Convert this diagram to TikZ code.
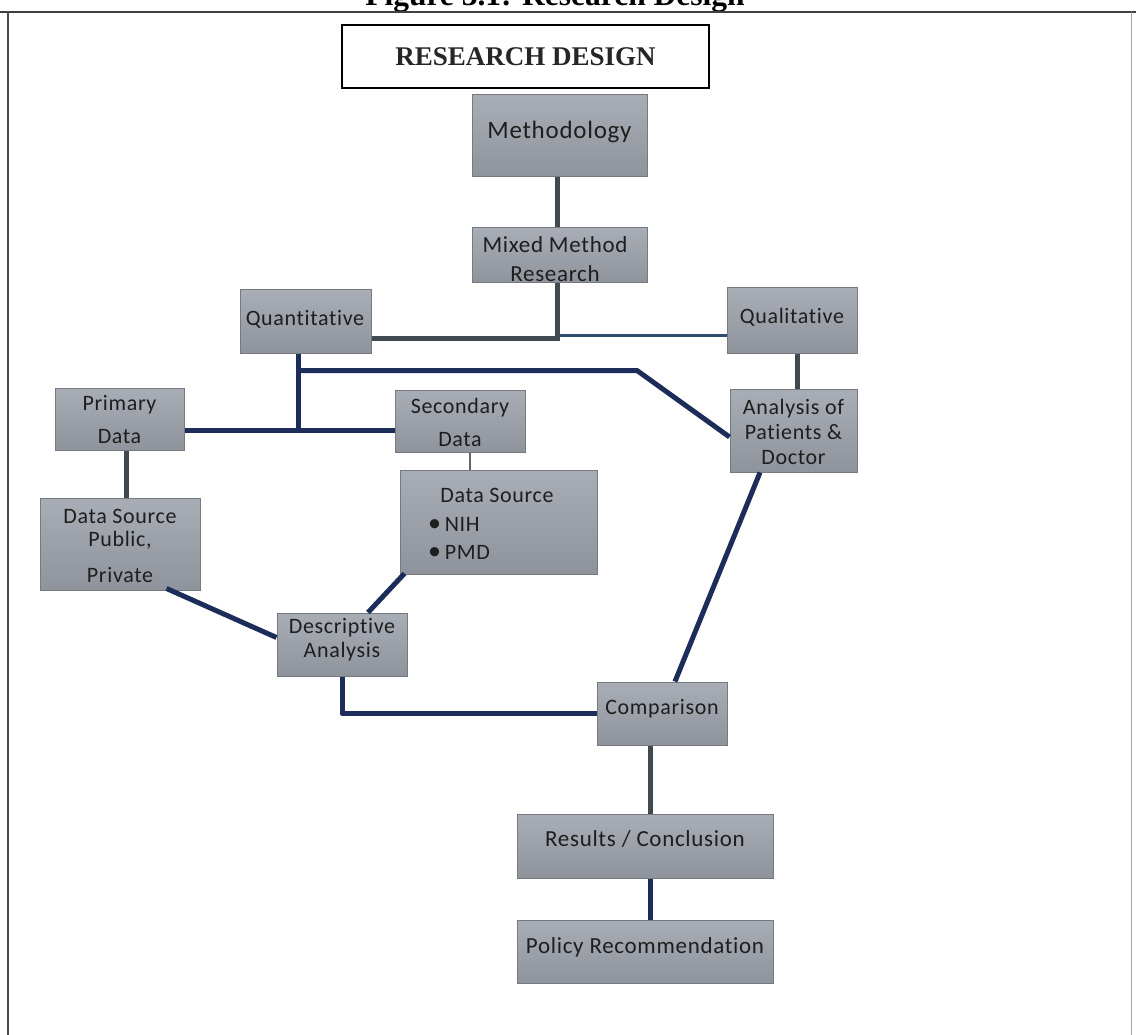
\documentclass[tikz,border=0pt]{standalone}
\usepackage{fontspec}
\setmainfont{Carlito}[LetterSpace=3,Ligatures=NoCommon]
\newfontfamily\serifbold{Liberation Serif}
\usetikzlibrary{calc}
\definecolor{boxtop}{HTML}{A9ADB5}
\definecolor{boxbot}{HTML}{8F949C}
\definecolor{boxline}{HTML}{767A80}
\definecolor{darkc}{HTML}{404850}
\definecolor{navyc}{HTML}{1C2D5A}
\definecolor{slatec}{HTML}{2D4B6B}
\definecolor{txtc}{HTML}{1E1E1E}
\begin{document}
\begin{tikzpicture}[x=1pt,y=-1pt,
  gbox/.style={draw=boxline, line width=1pt, top color=boxtop, bottom color=boxbot, inner sep=0pt},
  btxt/.style={text=txtc, align=center, inner sep=0pt, font=\fontsize{22}{26}\selectfont},
  dk/.style={draw=darkc, line width=5pt},
  nv/.style={draw=navyc, line width=5pt, line join=round},
  sl/.style={draw=slatec, line width=3pt},
  thinc/.style={draw=gray!80!black, line width=2pt}]
\useasboundingbox (0,0) rectangle (1136,1035);
\fill[white] (0,0) rectangle (1136,1035);
% title (partially cut at the top)
\node[anchor=base, inner sep=0pt, font=\serifbold\bfseries\fontsize{31.5}{34}\selectfont] (fig) at (555,6) {Figure 3.1: Research Design};
% outer frame
\draw[line width=2pt, draw=black!75] (0,12) -- (1136,12);
\draw[line width=2pt, draw=black!70] (8,12) -- (8,1035);
\draw[line width=1pt, draw=black!35] (1131,12) -- (1131,1035);
% heading box
\node[draw=black, line width=1.5pt, fill=white, minimum width=367pt, minimum height=63pt, inner sep=0pt,
  font=\serifbold\bfseries\fontsize{27}{30}\selectfont, text=black!85] (rd) at (525.5,56.5) {RESEARCH DESIGN};
% boxes
\node[gbox, minimum width=175pt, minimum height=82pt] (meth) at (559.5,136) {};
\node[gbox, minimum width=175pt, minimum height=55pt] (mixed) at (559.5,255.5) {};
\node[gbox, minimum width=131pt, minimum height=63pt] (quant) at (305.5,321.5) {};
\node[gbox, minimum width=130pt, minimum height=65pt] (qual) at (792,320.5) {};
\node[gbox, minimum width=127pt, minimum height=83pt] (anal) at (793.5,430.5) {};
\node[gbox, minimum width=129pt, minimum height=62pt] (prim) at (119.5,419) {};
\node[gbox, minimum width=130pt, minimum height=62pt] (sec) at (460,421) {};
\node[gbox, minimum width=160pt, minimum height=92pt] (dspub) at (120,544) {};
\node[gbox, minimum width=197pt, minimum height=104pt] (dssec) at (498.5,522) {};
\node[gbox, minimum width=130pt, minimum height=63pt] (desc) at (342,644.5) {};
\node[gbox, minimum width=130pt, minimum height=63pt] (comp) at (662,713.5) {};
\node[gbox, minimum width=256pt, minimum height=64pt] (res) at (645,846) {};
\node[gbox, minimum width=256pt, minimum height=63pt] (pol) at (645,951.5) {};
% texts
\node[btxt, font=\fontsize{25}{29}\selectfont] (meth-t) at (559.5,132) {Methodology};
\node[btxt, font=\fontsize{23}{27}\selectfont] (mixed-t) at (555,259) {Mixed Method\\[2pt]Research};
\node[btxt] (quant-t) at (305,319) {Quantitative};
\node[btxt] (qual-t) at (792,317) {Qualitative};
\node[btxt, font=\fontsize{22}{25}\selectfont] (anal-t) at (793.5,432) {Analysis of\\Patients \&\\Doctor};
\node[btxt] (prim-t) at (119.5,420) {Primary\\[7pt]Data};
\node[btxt] (sec-t) at (460,422) {Secondary\\[7pt]Data};
\node[btxt] (dspub-t) at (120,546) {Data Source\\[-3pt]Public,\\[10pt]Private};
\node[btxt] (dssec-t) at (497,495) {Data Source};
\node[btxt, align=left, anchor=west] (dssec-b) at (428,538) {{\fontsize{26}{26}\selectfont•}\,NIH\\[2pt]{\fontsize{26}{26}\selectfont•}\,PMD};
\node[btxt, font=\fontsize{22}{24}\selectfont] (desc-t) at (342,640) {Descriptive\\Analysis};
\node[btxt] (comp-t) at (662,709) {Comparison};
\node[btxt, font=\fontsize{23}{27}\selectfont] (res-t) at (645,839) {Results / Conclusion};
\node[btxt, font=\fontsize{23}{27}\selectfont] (pol-t) at (645,947) {Policy Recommendation};
% junction coordinates
\coordinate (j1) at ($(mixed.south)+(-2.5,55)$);
\coordinate (j1b) at ($(mixed.south)+(-2.5,52)$);
\coordinate (q1) at ($(quant.south)+(-7.5,0)$);
\coordinate (u1) at ($(q1)+(0,17)$);
\coordinate (u2) at ($(u1)+(339,0)$);
\coordinate (jp) at ($(q1)+(0,77)$);
\coordinate (m1) at ($(meth.south)+(-2.5,0)$);
\coordinate (m2) at ($(mixed.north)+(-2.5,0)$);
\coordinate (m3) at ($(mixed.south)+(-2.5,0)$);
\coordinate (p1) at ($(prim.south)+(6.5,0)$);
\coordinate (s1) at ($(sec.south)+(10,0)$);
\coordinate (ql1) at ($(qual.south)+(5,0)$);
\coordinate (an1) at ($(anal.west)+(0,6.5)$);
\coordinate (dp1) at ($(dspub.south east)+(-34,-2)$);
\coordinate (de1) at ($(desc.north west)+(0,25)$);
\coordinate (ds1) at ($(dssec.south west)+(5,-1)$);
\coordinate (de2) at ($(desc.north)+(26,0)$);
\coordinate (an2) at ($(anal.south)+(-33.5,0)$);
\coordinate (co1) at ($(comp.north)+(13,0)$);
\coordinate (co2) at ($(comp.south)+(-12,0)$);
\coordinate (re1) at ($(res.south)+(5,0)$);
% connectors
\draw[dk] (m1) -- (m2);
\draw[sl] (j1b) -- (qual.west |- j1b);
\draw[dk] (m3) -- (j1) -- (quant.east |- j1);
\draw[nv] (q1) -- (jp);
\draw[nv] (prim.east |- jp) -- (sec.west |- jp);
\draw[nv] (u1) -- (u2) -- (an1);
\draw[dk] (p1) -- (p1 |- dspub.north);
\draw[thinc] (s1) -- (s1 |- dssec.north);
\draw[dk] (ql1) -- (ql1 |- anal.north);
\draw[nv] (dp1) -- (de1);
\draw[nv] (ds1) -- (de2);
\draw[nv] (desc.south) |- (comp.west);
\draw[nv] (an2) -- (co1);
\draw[dk] (co2) -- (co2 |- res.north);
\draw[nv] (re1) -- (re1 |- pol.north);
\end{tikzpicture}
\end{document}
